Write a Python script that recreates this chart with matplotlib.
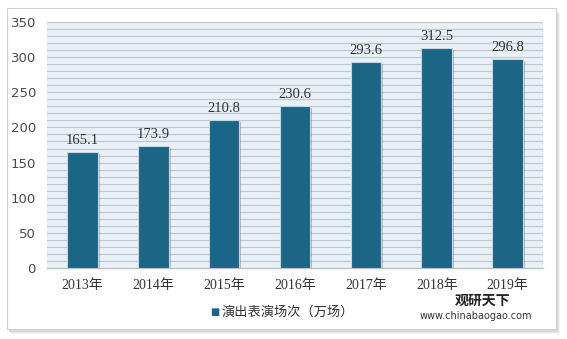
import matplotlib
matplotlib.use("Agg")
import matplotlib.pyplot as plt
import matplotlib.patheffects as pe
from matplotlib.patches import Rectangle
import numpy as np

categories = ["2013年", "2014年", "2015年", "2016年", "2017年", "2018年", "2019年"]
values = [165.1, 173.9, 210.8, 230.6, 293.6, 312.5, 296.8]
series_name = "演出表演场次（万场）"
yticks = [0, 50, 100, 150, 200, 250, 300, 350]

fig = plt.figure(figsize=(5.67, 3.39), dpi=100)
fig.patch.set_facecolor("white")

# frame with shadow
for i, c in enumerate(["#f4f4f4", "#e6e6e6", "#d8d8d8"]):
    off = 3 - i
    fig.patches.append(Rectangle((8 / 567 + off / 567, 9 / 339 - off / 339 - 0.004), 549 / 567, 320 / 339,
                                 transform=fig.transFigure, facecolor=c, edgecolor="none", zorder=0))
fig.patches.append(Rectangle((7 / 567, 10 / 339), 549 / 567, 321 / 339, transform=fig.transFigure,
                             facecolor="white", edgecolor="#d0d0d0", linewidth=0.8, zorder=1))

ax = fig.add_axes([47 / 567, (339 - 268) / 339, (543 - 47) / 567, (268 - 22) / 339])
ax.set_zorder(2)
ax.set_facecolor("#e9f1f8")
x = np.arange(len(categories))
bars = ax.bar(x, values, width=0.43, color="#1b6587", edgecolor="#c9d6df", linewidth=0.8, zorder=3)
for b in bars:
    b.set_path_effects([pe.SimplePatchShadow(offset=(1.5, -1.5), shadow_rgbFace="#555555", alpha=0.35),
                        pe.Normal()])
for xi, v in zip(x, values):
    ax.text(xi, v + 7, f"{v:.1f}", ha="center", va="bottom", fontsize=10.5,
            family="Liberation Serif", color="#333333", zorder=4)

for yv in range(10, 351, 10):
    ax.axhline(yv, color="#c3c7cb", linewidth=0.9, zorder=1)

ax.set_ylim(0, 350)
ax.set_xlim(-0.5, len(categories) - 0.5)
ax.set_yticks(yticks)
ax.set_yticklabels([str(t) for t in yticks], fontsize=9.5, color="#4a4a4a", family="DejaVu Sans")
ax.set_xticks(x)
ax.set_xticklabels(categories, fontsize=10, color="#333333",
                   family=["Liberation Serif", "Noto Sans CJK SC"])
ax.tick_params(axis="both", length=0, pad=8)
for s in ["top", "right", "left"]:
    ax.spines[s].set_visible(False)
ax.spines["bottom"].set_color("#bfbfbf")
ax.spines["bottom"].set_linewidth(1)

fig.text(215 / 567, 1 - 312 / 339, "■", fontsize=7, color="#1b6587", ha="center", va="center")
fig.text(222 / 567, 1 - 312 / 339, series_name, fontsize=9.5, color="#333333",
         family=["Noto Sans CJK SC", "DejaVu Sans"], ha="left", va="center")

# watermark (kept clear of the tick labels)
fig.text(455 / 567, 1 - 301 / 339, "观研天下", fontsize=10, fontweight="bold", color="#222222",
         family=["Noto Sans CJK SC"], ha="left", va="center", zorder=5)
fig.text(420 / 567, 1 - 316 / 339, "www.chinabaogao.com", fontsize=7, color="#333333",
         ha="left", va="center", zorder=5)

fig.savefig("out.png", dpi=100)
